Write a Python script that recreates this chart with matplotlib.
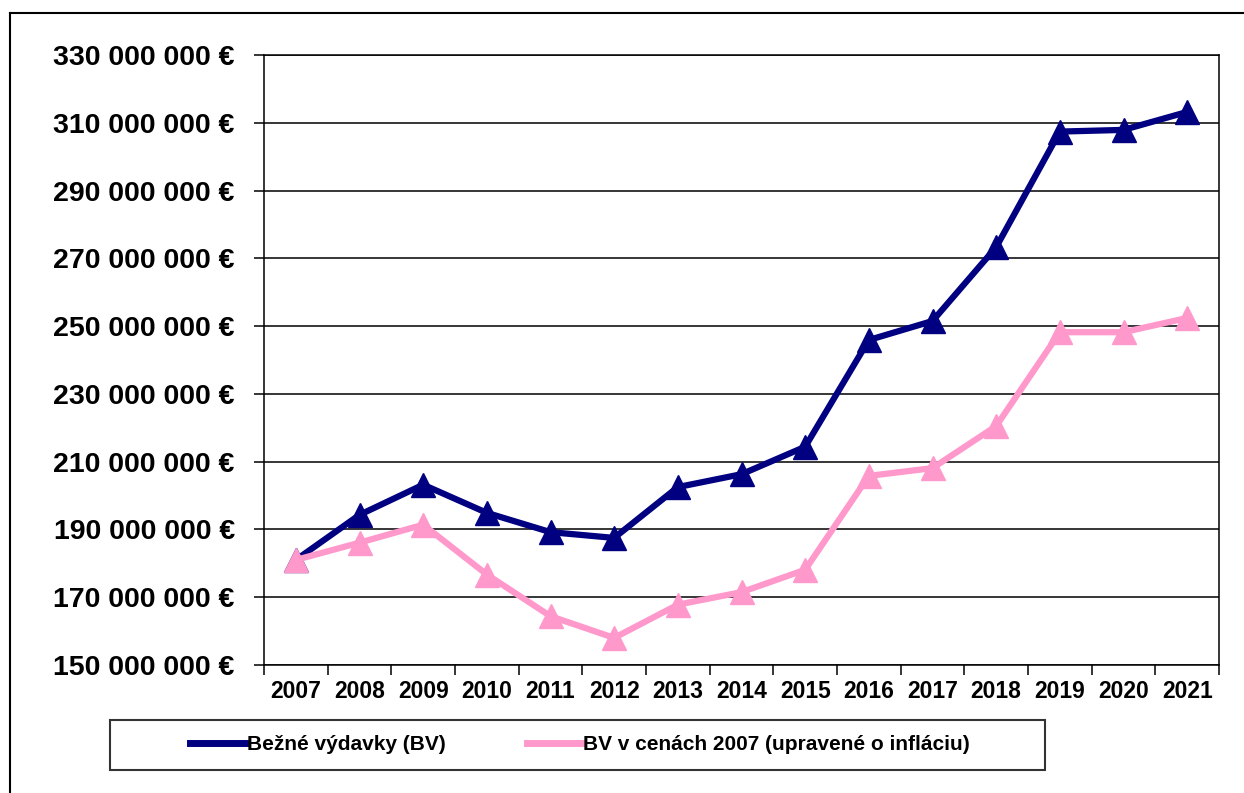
import matplotlib.pyplot as plt
from matplotlib.ticker import FuncFormatter, FixedLocator
from matplotlib.lines import Line2D
from matplotlib.patches import Rectangle

plt.rcParams['font.family'] = ['Liberation Sans', 'DejaVu Sans']

# data (euro)
years = ['2007', '2008', '2009', '2010', '2011', '2012', '2013', '2014',
         '2015', '2016', '2017', '2018', '2019', '2020', '2021']
bezne = [181.0, 194.3, 203.2, 194.9, 189.2, 187.5, 202.5, 206.3, 214.4,
         245.9, 251.5, 273.3, 307.4, 307.9, 313.2]
bezne_2007 = [181.0, 186.1, 191.4, 176.7, 164.4, 158.0, 167.8, 171.5, 178.1,
              205.8, 208.1, 220.5, 248.2, 248.2, 252.4]
bezne = [v * 1e6 for v in bezne]
bezne_2007 = [v * 1e6 for v in bezne_2007]

fig = plt.figure(figsize=(12.44, 7.93), dpi=100)
ax = fig.add_axes([264/1244, 1-665/793, (1219-264)/1244, (665-55)/793])

x = list(range(len(years)))
ax.plot(x, bezne, color='#000080', lw=4.5, marker='^', markersize=17,
        zorder=3, clip_on=False)
ax.plot(x, bezne_2007, color='#FF99CC', lw=4.5, marker='^', markersize=17,
        zorder=3, clip_on=False)

ax.set_xlim(-0.5, len(years) - 0.5)
ax.set_ylim(150e6, 330e6)
ax.set_yticks([150e6 + i*20e6 for i in range(10)])
ax.yaxis.set_major_formatter(FuncFormatter(lambda v, p: f'{int(v):,}'.replace(',', ' ') + ' €'))

# tick marks between categories, labels centred on categories
ax.xaxis.set_major_locator(FixedLocator([i - 0.5 for i in range(len(years) + 1)]))
ax.xaxis.set_major_formatter(FuncFormatter(lambda v, p: ''))
ax.set_xticks(x, minor=True)
ax.set_xticklabels(years, minor=True, fontsize=16.5, fontweight='bold')
ax.tick_params(axis='x', which='major', length=7, width=1.1, direction='out')
ax.tick_params(axis='x', which='minor', length=0, pad=11)
ax.tick_params(axis='y', length=7, width=1.1, direction='out', pad=14,
               labelsize=20.5)
for lab in ax.get_yticklabels():
    lab.set_fontweight('bold')

ax.yaxis.grid(True, color='black', lw=1.1)
ax.set_axisbelow(True)
for s in ax.spines.values():
    s.set_color('black')
    s.set_linewidth(1.1)

# legend
handles = [Line2D([], [], color='#000080', lw=5),
           Line2D([], [], color='#FF99CC', lw=5)]
labels = ['Bežné výdavky (BV)', 'BV v cenách 2007 (upravené o infláciu)']
fig.legend(handles, labels, loc='center', bbox_to_anchor=(580/1244, 1-745/793),
           ncol=2, frameon=False, handlelength=2.6, handletextpad=0.1,
           columnspacing=3.9, prop={'size': 15, 'weight': 'bold'})
fig.add_artist(Rectangle((110/1244, 1-770/793), 935/1244, 50/793,
                         transform=fig.transFigure, fill=False,
                         ec='#333333', lw=1.5))

# outer frame
fig.add_artist(Line2D([10/1244, 10/1244], [0, 1-13/793], color='black', lw=1.5))
fig.add_artist(Line2D([10/1244, 1], [1-13/793, 1-13/793], color='black', lw=1.5))

fig.savefig('out.png', dpi=100)
